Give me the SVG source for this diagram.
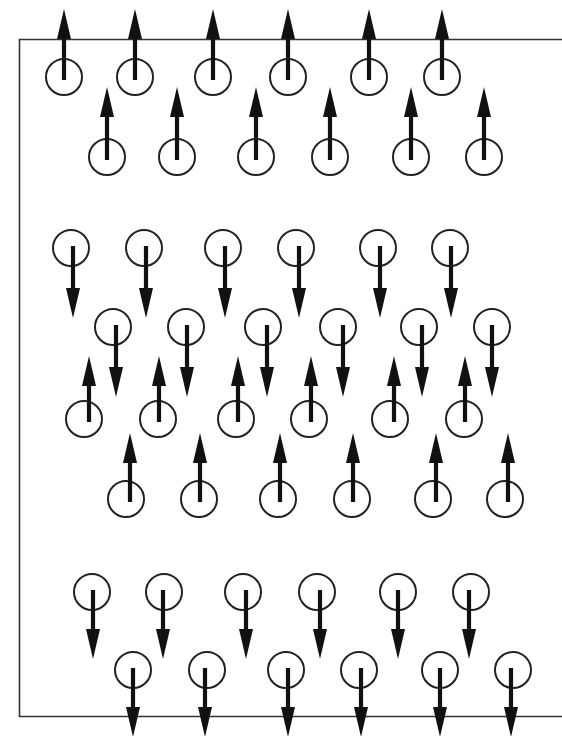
<svg xmlns="http://www.w3.org/2000/svg" width="562" height="736" viewBox="0 0 562 736">
<style>
.c{fill:none;stroke:#222;stroke-width:2}
.a{stroke:#111;stroke-width:4.2;marker-end:url(#h)}
.f{fill:none;stroke:#333;stroke-width:1.6}
</style>
<defs>
<marker id="h" viewBox="0 0 30 14" refX="1" refY="7" markerWidth="30" markerHeight="14" markerUnits="userSpaceOnUse" orient="auto">
<path d="M0,0 L30,7 L0,14 z" fill="#111"/>
</marker>
</defs>
<rect width="562" height="736" fill="#fff"/>
<path class="f" d="M562,39.5 H19.5 V716.5 H562"/>
<g id="row1">
<g id="n1"><circle class="c" cx="64" cy="77" r="18"/><line class="a" x1="64" y1="80" x2="64" y2="38"/></g>
<g id="n2"><circle class="c" cx="135" cy="77" r="18"/><line class="a" x1="135" y1="80" x2="135" y2="38"/></g>
<g id="n3"><circle class="c" cx="213" cy="77" r="18"/><line class="a" x1="213" y1="80" x2="213" y2="38"/></g>
<g id="n4"><circle class="c" cx="288" cy="77" r="18"/><line class="a" x1="288" y1="80" x2="288" y2="38"/></g>
<g id="n5"><circle class="c" cx="369" cy="77" r="18"/><line class="a" x1="369" y1="80" x2="369" y2="38"/></g>
<g id="n6"><circle class="c" cx="442" cy="77" r="18"/><line class="a" x1="442" y1="80" x2="442" y2="38"/></g>
</g>
<g id="row2">
<g id="n7"><circle class="c" cx="107" cy="157" r="18"/><line class="a" x1="107" y1="160" x2="107" y2="116"/></g>
<g id="n8"><circle class="c" cx="177" cy="157" r="18"/><line class="a" x1="177" y1="160" x2="177" y2="116"/></g>
<g id="n9"><circle class="c" cx="256" cy="157" r="18"/><line class="a" x1="256" y1="160" x2="256" y2="116"/></g>
<g id="n10"><circle class="c" cx="330" cy="157" r="18"/><line class="a" x1="330" y1="160" x2="330" y2="116"/></g>
<g id="n11"><circle class="c" cx="411" cy="157" r="18"/><line class="a" x1="411" y1="160" x2="411" y2="116"/></g>
<g id="n12"><circle class="c" cx="484" cy="157" r="18"/><line class="a" x1="484" y1="160" x2="484" y2="116"/></g>
</g>
<g id="row3">
<g id="n13"><circle class="c" cx="71" cy="248" r="18"/><line class="a" x1="73" y1="246" x2="73" y2="289"/></g>
<g id="n14"><circle class="c" cx="144" cy="248" r="18"/><line class="a" x1="146" y1="246" x2="146" y2="289"/></g>
<g id="n15"><circle class="c" cx="223" cy="248" r="18"/><line class="a" x1="225" y1="246" x2="225" y2="289"/></g>
<g id="n16"><circle class="c" cx="296" cy="248" r="18"/><line class="a" x1="299" y1="246" x2="299" y2="289"/></g>
<g id="n17"><circle class="c" cx="378" cy="248" r="18"/><line class="a" x1="380" y1="246" x2="380" y2="289"/></g>
<g id="n18"><circle class="c" cx="450" cy="248" r="18"/><line class="a" x1="451" y1="246" x2="451" y2="289"/></g>
</g>
<g id="row4">
<g id="n19"><circle class="c" cx="113" cy="327" r="18"/><line class="a" x1="116" y1="325" x2="116" y2="368"/></g>
<g id="n20"><circle class="c" cx="186" cy="327" r="18"/><line class="a" x1="187" y1="325" x2="187" y2="368"/></g>
<g id="n21"><circle class="c" cx="263" cy="327" r="18"/><line class="a" x1="267" y1="325" x2="267" y2="368"/></g>
<g id="n22"><circle class="c" cx="338" cy="327" r="18"/><line class="a" x1="343" y1="325" x2="343" y2="368"/></g>
<g id="n23"><circle class="c" cx="419" cy="327" r="18"/><line class="a" x1="422" y1="325" x2="422" y2="368"/></g>
<g id="n24"><circle class="c" cx="492" cy="327" r="18"/><line class="a" x1="492" y1="325" x2="492" y2="368"/></g>
</g>
<g id="row5">
<g id="n25"><circle class="c" cx="84" cy="419" r="18"/><line class="a" x1="89" y1="422" x2="89" y2="385"/></g>
<g id="n26"><circle class="c" cx="158" cy="419" r="18"/><line class="a" x1="159" y1="422" x2="159" y2="385"/></g>
<g id="n27"><circle class="c" cx="236" cy="419" r="18"/><line class="a" x1="238" y1="422" x2="238" y2="385"/></g>
<g id="n28"><circle class="c" cx="309" cy="419" r="18"/><line class="a" x1="311" y1="422" x2="311" y2="385"/></g>
<g id="n29"><circle class="c" cx="390" cy="419" r="18"/><line class="a" x1="394" y1="422" x2="394" y2="385"/></g>
<g id="n30"><circle class="c" cx="464" cy="419" r="18"/><line class="a" x1="465" y1="422" x2="465" y2="385"/></g>
</g>
<g id="row6">
<g id="n31"><circle class="c" cx="126" cy="499" r="18"/><line class="a" x1="130" y1="502" x2="130" y2="462"/></g>
<g id="n32"><circle class="c" cx="199" cy="499" r="18"/><line class="a" x1="200" y1="502" x2="200" y2="462"/></g>
<g id="n33"><circle class="c" cx="278" cy="499" r="18"/><line class="a" x1="280" y1="502" x2="280" y2="462"/></g>
<g id="n34"><circle class="c" cx="352" cy="499" r="18"/><line class="a" x1="353" y1="502" x2="353" y2="462"/></g>
<g id="n35"><circle class="c" cx="433" cy="499" r="18"/><line class="a" x1="436" y1="502" x2="436" y2="462"/></g>
<g id="n36"><circle class="c" cx="505" cy="499" r="18"/><line class="a" x1="508" y1="502" x2="508" y2="462"/></g>
</g>
<g id="row7">
<g id="n37"><circle class="c" cx="92" cy="592" r="18"/><line class="a" x1="93" y1="590" x2="93" y2="630"/></g>
<g id="n38"><circle class="c" cx="164" cy="592" r="18"/><line class="a" x1="163" y1="590" x2="163" y2="630"/></g>
<g id="n39"><circle class="c" cx="243" cy="592" r="18"/><line class="a" x1="246" y1="590" x2="246" y2="630"/></g>
<g id="n40"><circle class="c" cx="317" cy="592" r="18"/><line class="a" x1="320" y1="590" x2="320" y2="630"/></g>
<g id="n41"><circle class="c" cx="398" cy="592" r="18"/><line class="a" x1="398" y1="590" x2="398" y2="630"/></g>
<g id="n42"><circle class="c" cx="471" cy="592" r="18"/><line class="a" x1="469" y1="590" x2="469" y2="630"/></g>
</g>
<g id="row8">
<g id="n43"><circle class="c" cx="133" cy="670" r="18"/><line class="a" x1="133" y1="668" x2="133" y2="708"/></g>
<g id="n44"><circle class="c" cx="207" cy="670" r="18"/><line class="a" x1="205" y1="668" x2="205" y2="708"/></g>
<g id="n45"><circle class="c" cx="286" cy="670" r="18"/><line class="a" x1="288" y1="668" x2="288" y2="708"/></g>
<g id="n46"><circle class="c" cx="359" cy="670" r="18"/><line class="a" x1="361" y1="668" x2="361" y2="708"/></g>
<g id="n47"><circle class="c" cx="440" cy="670" r="18"/><line class="a" x1="440" y1="668" x2="440" y2="708"/></g>
<g id="n48"><circle class="c" cx="513" cy="670" r="18"/><line class="a" x1="511" y1="668" x2="511" y2="708"/></g>
</g>
</svg>
